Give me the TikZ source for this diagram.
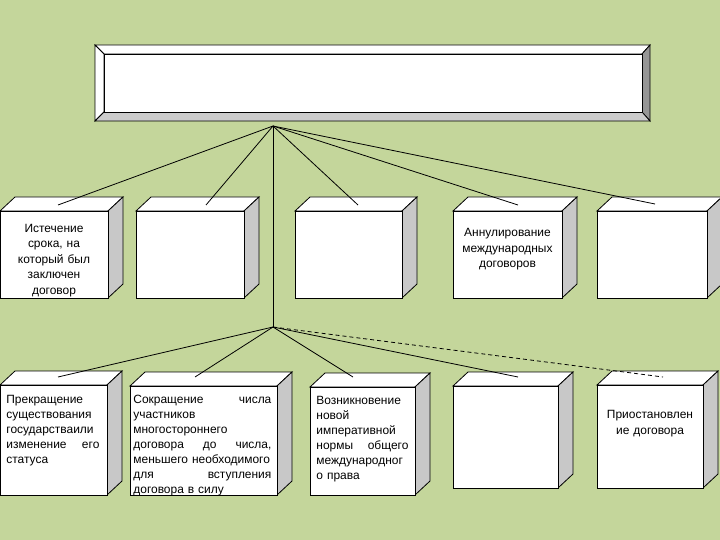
\documentclass[tikz,border=0pt]{standalone}
\usepackage{fontspec}
\setmainfont{Liberation Sans}
\definecolor{bg}{RGB}{196,214,155}
\definecolor{sidegray}{RGB}{200,200,200}
\definecolor{darkbevel}{RGB}{150,150,150}
\definecolor{lightbevel}{RGB}{204,204,204}
\newcommand\cubeshape[5]{%
  \filldraw[fill=white] (#2,#3) -- ++(15,-14) -- ++(#4,0) -- ++(-15,14) -- cycle;
  \filldraw[fill=sidegray] (#2+#4,#3) -- ++(15,-14) -- ++(0,#5) -- ++(-15,14) -- cycle;
  \node[front, minimum width=#4 bp, minimum height=#5 bp, anchor=north west] (#1) at (#2,#3) {};
}
\begin{document}
\begin{tikzpicture}[x=1bp,y=-1bp,line width=0.8bp,
  front/.style={draw, fill=white, inner sep=0pt, outer sep=0pt},
  txt/.style={inner sep=0pt, font=\fontsize{12}{15.5}\selectfont},
  txtb/.style={inner sep=0pt, font=\fontsize{12}{15}\selectfont},
  link/.style={draw=black, line width=0.8bp},
  dlink/.style={link, dash pattern=on 4bp off 3bp}]
\fill[bg] (0,0) rectangle (720,540);
\useasboundingbox (0,0) rectangle (720,540);

% title box with bevel
\filldraw[fill=white] (95,45) -- (650,45) -- (642,54) -- (104,54) -- cycle;
\filldraw[fill=white] (95,45) -- (104,54) -- (104,112) -- (95,121) -- cycle;
\filldraw[fill=darkbevel] (650,45) -- (650,121) -- (642,112) -- (642,54) -- cycle;
\filldraw[fill=lightbevel] (95,121) -- (650,121) -- (642,112) -- (104,112) -- cycle;
\node[front, minimum width=538bp, minimum height=58bp, anchor=north west] (T) at (104,54) {};

% row 1
\cubeshape{A}{0}{211}{108}{87}
\cubeshape{B}{136}{211}{108}{87}
\cubeshape{C}{295}{211}{107}{87}
\cubeshape{D}{453}{211}{109}{87}
\cubeshape{E}{597}{211}{110}{87}

% row 2
\cubeshape{F}{0}{385}{107}{110}
\cubeshape{G}{130}{386}{147}{109}
\cubeshape{H}{310}{387}{105}{108}
\cubeshape{I}{453}{386}{105}{102}
\cubeshape{J}{597}{385}{106}{103}

% texts
\node[txt, text width=106bp, align=center, yshift=-6bp] (At) at (A.center)
  {Истечение\\срока, на\\который был\\заключен\\договор};
\node[txt, text width=108bp, align=center, yshift=5bp] (Dt) at (D.center)
  {Аннулирование\\международных\\договоров};
\node[txtb, text width=93bp, align=left, anchor=north west, xshift=6bp, yshift=-10bp] (Ft) at (F.north west)
  {Прекращение\\существования\\государстваили\\изменение\hfill его\\статуса};
\node[txtb, text width=138bp, align=left, anchor=north west, xshift=3bp, yshift=-9bp] (Gt) at (G.north west)
  {Сокращение\hfill числа\\участников\\многостороннего\\договора\hfill до\hfill числа,\\меньшего необходимого\\для\hfill вступления\\договора в силу};
\node[txtb, text width=92bp, align=left, anchor=north west, xshift=6bp, yshift=-9bp] (Ht) at (H.north west)
  {Возникновение\\новой\\императивной\\нормы\hfill общего\\международног\\о права};
\node[txt, text width=106bp, align=center, yshift=13bp] (Jt) at (J.center)
  {Приостановлен\\ие договора};

% connectors
\coordinate (h1) at (273,126);
\coordinate (h2) at (273,327);
\coordinate (eA) at (58,205);
\coordinate (eB) at (206,205);
\coordinate (eC) at (358,205);
\coordinate (eD) at (518,205);
\coordinate (eE) at (655,204);
\coordinate (eF) at (58,377);
\coordinate (eG) at (195,377);
\coordinate (eH) at (353,377);
\coordinate (eI) at (518,377);
\coordinate (eJ) at (663,377);

\draw[link] (h1) -- (eA);
\draw[link] (h1) -- (eB);
\draw[link] (h1) -- (eC);
\draw[link] (h1) -- (eD);
\draw[link] (h1) -- (eE);
\draw[link] (h1) -- (h2);
\draw[link] (h2) -- (eF);
\draw[link] (h2) -- (eG);
\draw[link] (h2) -- (eH);
\draw[link] (h2) -- (eI);
\draw[dlink] (h2) -- (eJ);
\end{tikzpicture}
\end{document}
